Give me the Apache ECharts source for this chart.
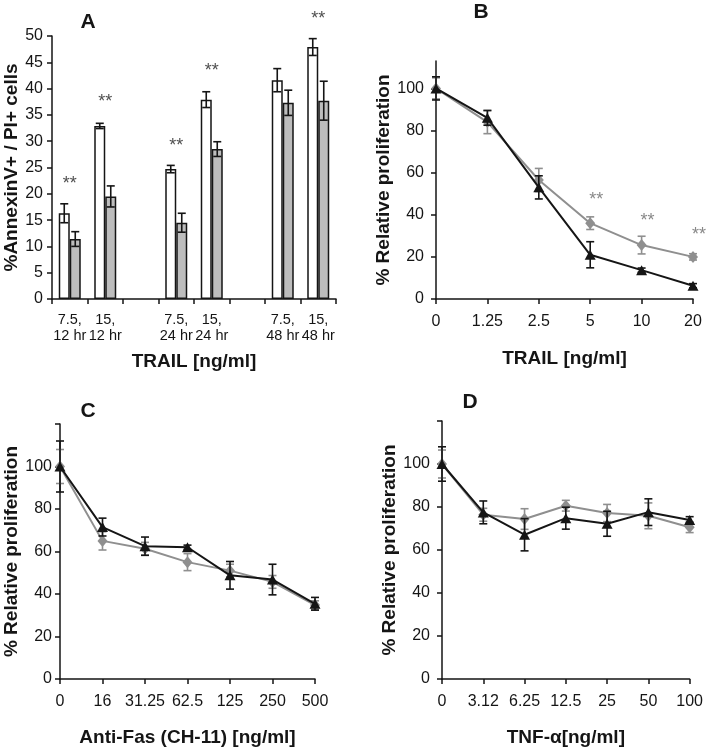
<!DOCTYPE html>
<html>
<head>
<meta charset="utf-8">
<script src="https://cdn.jsdelivr.net/npm/echarts@6/dist/echarts.min.js"></script>
<style>
  html, body { margin: 0; padding: 0; background: #fff; }
  #chart { width: 706px; height: 750px; }
</style>
</head>
<body>
<div id="chart"></div>
<script>
// Panel A: AnnexinV+/PI+ bars (white / gray) with SD
const aCategories = ['7.5,\n12 hr', '15,\n12 hr', '', '7.5,\n24 hr', '15,\n24 hr', '', '7.5,\n48 hr', '15,\n48 hr'];
const aWhite = [16.3, 32.9, null, 24.7, 37.9, null, 41.6, 47.9];
const aWhiteErr = [1.8, 0.5, null, 0.7, 1.5, null, 2.2, 1.6];
const aGray = [11.4, 19.5, null, 14.5, 28.5, null, 37.3, 37.7];
const aGrayErr = [1.4, 2.0, null, 1.8, 1.4, null, 2.4, 3.7];
const aStars = [22.9, 38.4, null, 30.1, 44.2, null, null, 54.1];
const aTicks = [0, 5, 10, 15, 20, 25, 30, 35, 40, 45, 50];

// Panel B: TRAIL proliferation
const bCategories = ['0', '1.25', '2.5', '5', '10', '20'];
const bBlack = [100, 86, 53, 21, 13.7, 6.3];
const bBlackErr = [5.5, 3.5, 5.5, 6.2, 1, 1];
const bGray = [100, 84, 56.5, 36, 25.6, 20];
const bGrayErr = [5, 5.5, 5.5, 3, 4.2, 1.5];
const bStars = [null, null, null, 49.5, 39.3, 32.6];

// Panel C: Anti-Fas
const cCategories = ['0', '16', '31.25', '62.5', '125', '250', '500'];
const cBlack = [100, 71.5, 62.5, 62, 48.8, 46.8, 35.4];
const cBlackErr = [12, 4.2, 4.3, 1, 6.5, 7.2, 3];
const cGray = [100, 65, 61.3, 55, 51, 45.7, 34.8];
const cGrayErr = [8, 4.3, 3, 4, 3, 3, 2];

// Panel D: TNF-alpha
const dCategories = ['0', '3.12', '6.25', '12.5', '25', '50', '100'];
const dBlack = [100, 77.5, 67.1, 74.8, 72.2, 77.6, 74];
const dBlackErr = [8, 5.3, 7.5, 5.1, 5.8, 6.2, 1.5];
const dGray = [100, 76.4, 74.4, 80.6, 77.2, 75.9, 70.6];
const dGrayErr = [6.5, 3, 4.8, 2.5, 4, 6, 2.5];

const propTicks = [0, 20, 40, 60, 80, 100];
const propTicksTop = [0, 20, 40, 60, 80, 100, 120];

const FONT = "'Liberation Sans', Arial, sans-serif";
const INK = '#151515';
const GRAY = '#8f8f8f';

const chart = echarts.init(document.getElementById('chart'));

function errData(values, errs) {
  return values
    .map((v, i) => (v == null ? null : [i, v - errs[i], v + errs[i]]))
    .filter(d => d);
}

function errorBars(color, shift) {
  return function (params, api) {
    const idx = api.value(0);
    const lo = api.coord([idx, api.value(1)]);
    const hi = api.coord([idx, api.value(2)]);
    const cx = lo[0] + shift;
    const w = 4;
    const style = { stroke: color, lineWidth: 1.6 };
    return {
      type: 'group',
      children: [
        { type: 'line', shape: { x1: cx, y1: lo[1], x2: cx, y2: hi[1] }, style },
        { type: 'line', shape: { x1: cx - w, y1: hi[1], x2: cx + w, y2: hi[1] }, style },
        { type: 'line', shape: { x1: cx - w, y1: lo[1], x2: cx + w, y2: lo[1] }, style }
      ]
    };
  };
}

function errSeries(i, values, errs, color, shift, z) {
  return {
    type: 'custom',
    xAxisIndex: i,
    yAxisIndex: i,
    renderItem: errorBars(color, shift),
    data: errData(values, errs),
    z: z,
    silent: true
  };
}

function lineSeries(i, values, color, symbol, size, z) {
  return {
    type: 'line',
    xAxisIndex: i,
    yAxisIndex: i,
    data: values,
    symbol: symbol,
    symbolSize: size,
    showAllSymbol: true,
    lineStyle: { color: color, width: 2 },
    itemStyle: { color: color },
    z: z,
    silent: true
  };
}

function starSeries(i, values, color, offsetX) {
  return {
    type: 'scatter',
    xAxisIndex: i,
    yAxisIndex: i,
    data: values,
    symbolSize: 0,
    clip: false,
    silent: true,
    label: {
      show: true,
      formatter: '**',
      position: 'inside',
      offset: [offsetX, 5],
      fontFamily: FONT,
      fontSize: 18,
      color: color
    }
  };
}

const axisLine = { show: true, lineStyle: { color: INK, width: 1.5 } };
const axisTick = { show: true, inside: false, length: 5, lineStyle: { color: INK, width: 1.5 } };
const nameStyle = { fontFamily: FONT, fontWeight: 'bold', fontSize: 19, color: INK };

function catAxis(i, data, name, gap, boundaryGap, labelMargin, fontSize) {
  return {
    type: 'category',
    gridIndex: i,
    data: data,
    boundaryGap: boundaryGap,
    name: name,
    nameLocation: 'middle',
    nameGap: gap,
    nameTextStyle: nameStyle,
    axisLine: axisLine,
    axisTick: Object.assign({ alignWithLabel: !boundaryGap, interval: 0 }, axisTick),
    axisLabel: {
      interval: 0,
      margin: labelMargin,
      fontFamily: FONT,
      fontSize: fontSize,
      lineHeight: 16,
      color: INK
    },
    splitLine: { show: false }
  };
}

function valAxis(i, max, interval, name, gap, labelMargin, labelVals, tickVals, fontSize) {
  return {
    type: 'value',
    gridIndex: i,
    min: 0,
    max: max,
    interval: interval,
    name: name,
    nameLocation: 'middle',
    nameGap: gap,
    nameTextStyle: nameStyle,
    axisLine: axisLine,
    axisTick: Object.assign({ customValues: tickVals }, axisTick),
    axisLabel: {
      customValues: labelVals,
      margin: labelMargin,
      fontFamily: FONT,
      fontSize: fontSize,
      color: INK
    },
    splitLine: { show: false }
  };
}

function letter(text, x, y) {
  return {
    type: 'text',
    x: x,
    y: y,
    style: {
      text: text,
      fontFamily: FONT,
      fontWeight: 'bold',
      fontSize: 21,
      fill: INK,
      align: 'center',
      verticalAlign: 'middle'
    }
  };
}

chart.setOption({
  animation: false,
  backgroundColor: '#fff',
  grid: [
    { left: 52, top: 36, width: 284, height: 263 },
    { left: 436, top: 61, width: 257, height: 238 },
    { left: 60, top: 424, width: 255, height: 255 },
    { left: 442, top: 421, width: 256, height: 258 }
  ],
  xAxis: [
    catAxis(0, aCategories, 'TRAIL [ng/ml]', 53, true, 13, 14.5),
    catAxis(1, bCategories, 'TRAIL [ng/ml]', 50, false, 15, 16),
    catAxis(2, cCategories, 'Anti-Fas (CH-11) [ng/ml]', 49, false, 15, 16),
    catAxis(3, dCategories, 'TNF-\u03b1[ng/ml]', 49, false, 15, 16)
  ],
  yAxis: [
    valAxis(0, 50, 5, '%AnnexinV+ / PI+ cells', 31, 9, aTicks, aTicks, 16),
    valAxis(1, 113, 20, '% Relative proliferation', 39, 12, propTicks, propTicks, 16),
    valAxis(2, 120, 20, '% Relative proliferation', 36, 8, propTicks, propTicksTop, 16),
    valAxis(3, 120, 20, '% Relative proliferation', 42, 12, propTicks, propTicksTop, 16)
  ],
  graphic: [
    letter('A', 88, 22),
    letter('B', 481, 12),
    letter('C', 88, 411),
    letter('D', 470, 402)
  ],
  series: [
    // A
    {
      type: 'bar', xAxisIndex: 0, yAxisIndex: 0, data: aWhite,
      barWidth: 11, barGap: '0%', silent: true,
      itemStyle: { color: '#ffffff', borderColor: INK, borderWidth: 1.5 }
    },
    {
      type: 'bar', xAxisIndex: 0, yAxisIndex: 0, data: aGray,
      barWidth: 11, barGap: '0%', silent: true,
      itemStyle: { color: '#bdbdbd', borderColor: INK, borderWidth: 1.5 }
    },
    errSeries(0, aWhite, aWhiteErr, INK, -5.5, 5),
    errSeries(0, aGray, aGrayErr, INK, 5.5, 5),
    starSeries(0, aStars, '#222', 0),
    // B
    errSeries(1, bGray, bGrayErr, GRAY, 0, 2),
    lineSeries(1, bGray, GRAY, 'diamond', [10, 12], 3),
    errSeries(1, bBlack, bBlackErr, INK, 0, 4),
    lineSeries(1, bBlack, INK, 'triangle', [11, 10], 5),
    starSeries(1, bStars, '#6a6a6a', 6),
    // C
    errSeries(2, cGray, cGrayErr, GRAY, 0, 2),
    lineSeries(2, cGray, GRAY, 'diamond', [10, 12], 3),
    errSeries(2, cBlack, cBlackErr, INK, 0, 4),
    lineSeries(2, cBlack, INK, 'triangle', [11, 10], 5),
    // D
    errSeries(3, dGray, dGrayErr, GRAY, 0, 2),
    lineSeries(3, dGray, GRAY, 'diamond', [10, 12], 3),
    errSeries(3, dBlack, dBlackErr, INK, 0, 4),
    lineSeries(3, dBlack, INK, 'triangle', [11, 10], 5)
  ]
});
</script>
</body>
</html>
